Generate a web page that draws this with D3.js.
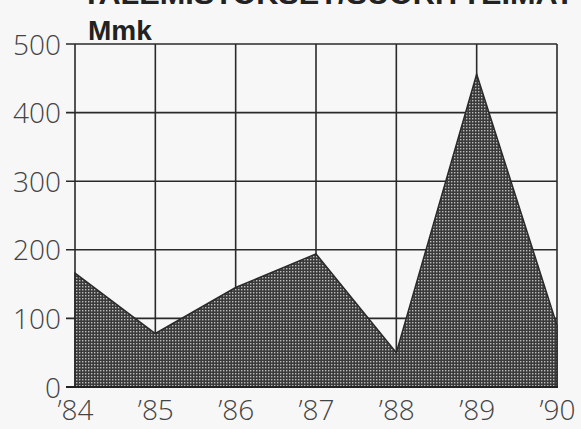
<!DOCTYPE html>
<html><head><meta charset="utf-8">
<script src="https://cdn.jsdelivr.net/npm/d3@7"></script>
<style>
html,body{margin:0;padding:0;background:#f7f7f7;}
svg{display:block;}
</style></head>
<body>
<script>
const years = ["’84","’85","’86","’87","’88","’89","’90"];
const values = [166, 78, 145, 194, 50, 456, 90];
const yTicks = [0, 100, 200, 300, 400, 500];
const unitLabel = "Mmk";
const titleText = "TALEMISTOKSET/SUORITTEIMAT";

const W = 581, H = 429;
const svg = d3.select("body").append("svg").attr("width", W).attr("height", H);

const x = d3.scalePoint().domain(years).range([75, 557]);
const y = d3.scaleLinear().domain([0, 500]).range([387, 44]);

const defs = svg.append("defs");
const pat = defs.append("pattern").attr("id","dots").attr("patternUnits","userSpaceOnUse")
  .attr("width", 3).attr("height", 3);
pat.append("rect").attr("width",3).attr("height",3).attr("fill","#3a3a3a");
pat.append("rect").attr("x",1).attr("y",1).attr("width",1.4).attr("height",1.4).attr("fill","#bdbdbd");

svg.append("rect").attr("width",W).attr("height",H).attr("fill","#f7f7f7");

// title (cut off at top)
svg.append("text").attr("x", 82).attr("y", 4)
  .attr("font-family","Liberation Sans, Arial, sans-serif").attr("font-weight","bold")
  .attr("font-size", 30).attr("textLength", 492).attr("lengthAdjust","spacingAndGlyphs")
  .attr("fill","#222").text(titleText);

// grid
const grid = svg.append("g").attr("stroke","#2a2a2a").attr("stroke-width",1.6);
grid.selectAll("line.h").data(yTicks.filter(d => d > 0)).join("line")
  .attr("x1", 66).attr("x2", x(years[years.length-1]))
  .attr("y1", d => y(d)).attr("y2", d => y(d));
grid.selectAll("line.v").data(years).join("line")
  .attr("x1", d => x(d)).attr("x2", d => x(d))
  .attr("y1", y(500)).attr("y2", y(0));

// area
const area = d3.area().x((d,i) => x(years[i])).y0(y(0)).y1(d => y(d));
svg.append("path").datum(values).attr("d", area)
  .attr("fill","url(#dots)").attr("stroke","#2a2a2a").attr("stroke-width",1.5);

// bottom axis line
svg.append("line").attr("x1",66).attr("x2",x(years[years.length-1])+1)
  .attr("y1",y(0)).attr("y2",y(0)).attr("stroke","#222").attr("stroke-width",2);

const labelFont = "Open Sans, sans-serif";

// y axis labels
const yAxis = d3.axisLeft(y).tickValues(yTicks).tickSize(0).tickPadding(0);
const gy = svg.append("g").attr("transform","translate(61,0)").call(yAxis)
  .attr("font-family", labelFont);
gy.select(".domain").remove();
gy.selectAll("text").attr("font-family", labelFont).attr("font-weight", 300)
  .attr("font-size",28).attr("fill","#444").attr("dy","0.36em");

// x axis labels
const xAxis = d3.axisBottom(x).tickSize(0).tickPadding(0);
const gx = svg.append("g").attr("transform","translate(0,400)").call(xAxis)
  .attr("font-family", labelFont);
gx.select(".domain").remove();
gx.selectAll("text").attr("font-family", labelFont).attr("font-weight", 300)
  .attr("font-size",28).attr("fill","#444").attr("dy","0.72em");

// unit label
svg.append("text").attr("x",88).attr("y",40)
  .attr("font-family","Liberation Sans, Arial, sans-serif").attr("font-weight","bold")
  .attr("font-size",28).attr("fill","#222").text(unitLabel);
</script>
</body></html>
